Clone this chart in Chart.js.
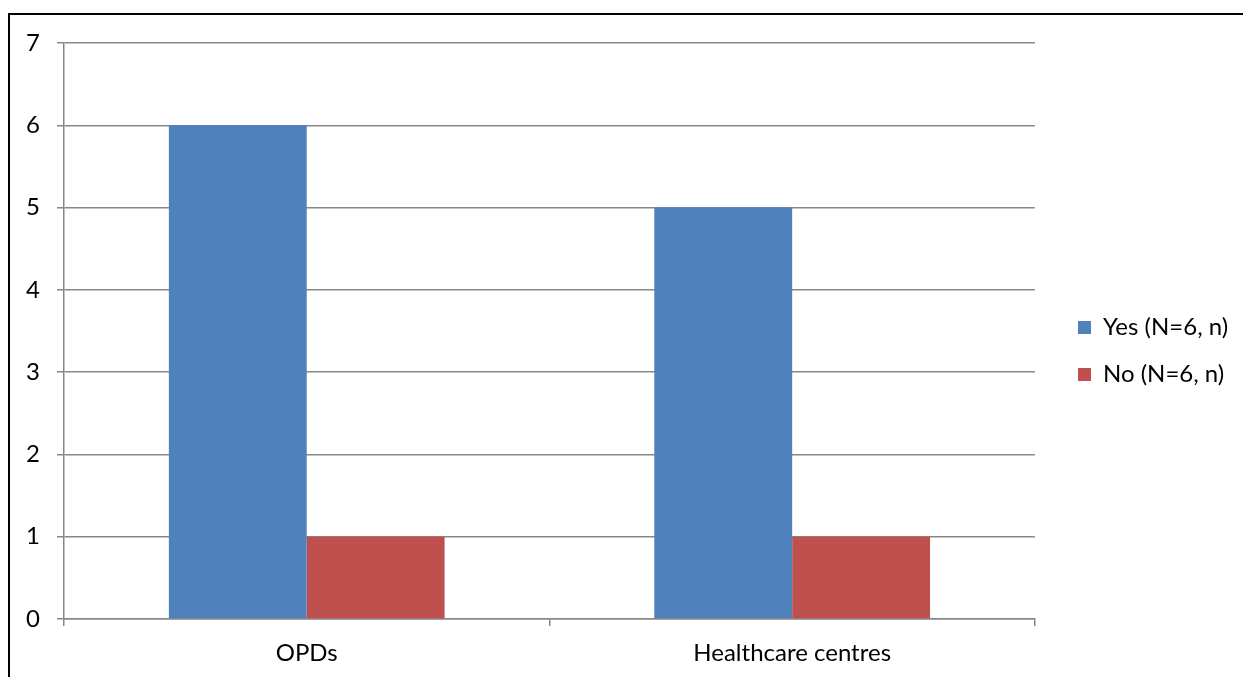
<!DOCTYPE html>
<html lang="en">
<head>
  <meta charset="UTF-8" />
  <title>OPDs vs Healthcare centres</title>
  <script src="https://cdn.jsdelivr.net/npm/chart.js"></script>
  <style>
    html, body { margin: 0; padding: 0; background: #fff; }
    .frame {
      position: absolute; left: 8px; top: 13px; width: 1240px; height: 670px;
      border-left: 2px solid #000; border-top: 2px solid #000;
      pointer-events: none;
    }
    .wrap { position: absolute; left: 0; top: 0; width: 1243px; height: 677px; }
  </style>
</head>
<body>
  <div class="wrap"><canvas id="grafico"></canvas></div>
  <div class="frame"></div>

  <script>
    // dados
    const categorias = ['OPDs', 'Healthcare centres'];
    const sim = [6, 5];
    const nao = [1, 1];
    const ticksY = [0, 1, 2, 3, 4, 5, 6, 7];

    const fonte = { family: 'Lato, "Open Sans", sans-serif', size: 24 };
    const cinza = '#878787';

    // reposiciona a legenda (mais à direita e um pouco acima, como no original)
    const moverLegenda = {
      id: 'moverLegenda',
      afterLayout(chart) {
        const lg = chart.legend;
        const dx = 1078 - (lg.left + 23);
        const dy = -9;
        lg.left += dx;
        lg.right += dx;
        lg.top += dy;
        lg.bottom += dy;
      }
    };

    new Chart(document.getElementById('grafico'), {
      type: 'bar',
      data: {
        labels: categorias,
        datasets: [
          { label: 'Yes (N=6, n)', data: sim, backgroundColor: '#4F81BD' },
          { label: 'No (N=6, n)', data: nao, backgroundColor: '#C0504D' }
        ]
      },
      plugins: [moverLegenda],
      options: {
        responsive: true,
        maintainAspectRatio: false,
        animation: false,
        layout: { padding: { left: 0, top: 43, right: 25, bottom: 0 } },
        categoryPercentage: 0.568,
        barPercentage: 1,
        plugins: {
          tooltip: { enabled: false },
          legend: {
            position: 'right',
            labels: {
              color: '#000',
              font: fonte,
              boxWidth: 13,
              boxHeight: 13,
              padding: 23
            }
          }
        },
        scales: {
          x: {
            afterFit: s => { s.height = 58; },
            grid: { drawOnChartArea: false, drawTicks: true, tickLength: 7, color: cinza, lineWidth: 1.5 },
            border: { color: cinza, width: 1.5 },
            ticks: { color: '#000', font: fonte, padding: 13 }
          },
          y: {
            min: ticksY[0],
            max: ticksY[ticksY.length - 1],
            afterBuildTicks: axis => { axis.ticks = ticksY.map(v => ({ value: v })); },
            afterFit: s => { s.width = 64; },
            grid: { color: cinza, lineWidth: 1.5, tickLength: 7 },
            border: { color: cinza, width: 1.5 },
            ticks: { color: '#000', font: fonte, padding: 17 }
          }
        }
      }
    });
  </script>
</body>
</html>
